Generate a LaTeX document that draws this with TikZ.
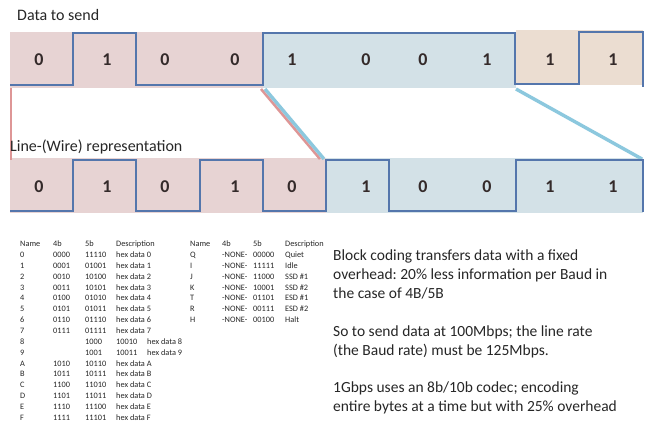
\documentclass[tikz,border=0pt]{standalone}
\usepackage{fontspec}
\setmainfont{Carlito}
\frenchspacing
\definecolor{wave}{RGB}{84,118,172}
\definecolor{cellpink}{RGB}{231,211,211}
\definecolor{cellblue}{RGB}{211,225,231}
\definecolor{celltan}{RGB}{235,221,209}
\definecolor{linkpink}{RGB}{222,150,150}
\definecolor{linkblue}{RGB}{140,200,222}
\definecolor{ink}{RGB}{38,38,38}
\definecolor{bitink}{RGB}{52,42,42}

\begin{document}
\begin{tikzpicture}[x=1pt,y=-1pt,
  bit/.style={font=\fontsize{18}{21}\selectfont\bfseries, text=bitink, inner sep=0pt},
  caption/.style={font=\fontsize{15.5}{19}\selectfont, text=ink, anchor=base west, inner sep=0pt},
  rowtitle/.style={caption, font=\fontsize{16}{19}\selectfont},
  tab/.style={font=\fontsize{8.3}{10}\selectfont, text=ink, anchor=base west, inner sep=0pt},
  waveform/.style={draw=wave, line width=1.4pt, line join=miter},
  pinklink/.style={draw=linkpink, line width=2.6pt},
  bluelink/.style={draw=linkblue, line width=3.4pt},
]
\useasboundingbox (0,0) rectangle (650,421);

% ---- coloured nibble backgrounds ----
\fill[cellpink] (10,32) rectangle (263,88);
\fill[cellblue] (263,33) rectangle (516,88);
\fill[celltan]  (516,30) rectangle (643,85);
\fill[cellpink] (10,158) rectangle (326,213);
\fill[cellblue] (326,158) rectangle (643,213);

% ---- mapping lines between the two rows ----
\coordinate (vTop) at (11,88);
\coordinate (vBot) at (11,160);
\coordinate (pTop) at (261,89);
\coordinate (pBot) at (320,159);
\coordinate (aTop) at (265,89);
\coordinate (aBot) at (324,159);
\coordinate (cTop) at (516,89);
\coordinate (cBot) at (642,159);
\draw[draw=linkpink, line width=2pt] (vTop) -- (vBot);
\draw[pinklink] (pTop) -- (pBot);
\draw[bluelink] (aTop) -- (aBot);
\draw[bluelink] (cTop) -- (cBot);

% ---- waveforms ----
\draw[waveform] (10,85) -- (73,85) -- (73,33) -- (136,33) -- (136,85) -- (263,85)
  -- (263,33) -- (515,33) -- (515,84) -- (579,84) -- (579,32) -- (643,32) -- (643,87);
\draw[waveform] (10,211) -- (73,211) -- (73,160) -- (136,160) -- (136,211) -- (200,211)
  -- (200,160) -- (263,160) -- (263,211) -- (326,211) -- (326,160) -- (389,160)
  -- (389,211) -- (516,211) -- (516,160) -- (643,160) -- (643,212);

% ---- bit values ----
\foreach \x/\v [count=\i] in {39/0,107/1,165/0,235/0,292/1,366/0,423/0,487/1,550/1,613/1}
  \node[bit] (t\i) at (\x,60) {\v};
\foreach \x/\v [count=\i] in {39/0,107/1,165/0,235/1,292/0,366/1,423/0,487/0,550/1,613/1}
  \node[bit] (b\i) at (\x,187) {\v};

% ---- row titles ----
\node[rowtitle] (sendTitle) at (17,20) {Data to send};
\node[rowtitle] (lineTitle) at (10,151) {Line-(Wire) representation};

% ---- 4B/5B data symbols ----
\foreach \nm/\fb/\fv/\ds [count=\r from 0] in {
    Name/4b/5b/Description,
    0/0000/11110/hex data 0, 1/0001/01001/hex data 1, 2/0010/10100/hex data 2,
    3/0011/10101/hex data 3, 4/0100/01010/hex data 4, 5/0101/01011/hex data 5,
    6/0110/01110/hex data 6, 7/0111/01111/hex data 7,
    8/ /1000/{10010\hspace{10pt}hex data 8}, 9/ /1001/{10011\hspace{10pt}hex data 9},
    A/1010/10110/hex data A, B/1011/10111/hex data B, C/1100/11010/hex data C,
    D/1101/11011/hex data D, E/1110/11100/hex data E, F/1111/11101/hex data F}{
  \node[tab] (dn\r) at (20,{246.7+10.85*\r}) {\nm};
  \node[tab] (d4\r) at (53,{246.7+10.85*\r}) {\fb};
  \node[tab] (d5\r) at (85,{246.7+10.85*\r}) {\fv};
  \node[tab] (dd\r) at (116,{246.7+10.85*\r}) {\ds};
}

% ---- 4B/5B control symbols ----
\foreach \nm/\fb/\fv/\ds [count=\r from 0] in {
    Name/4b/5b/Description,
    Q/-NONE-/00000/Quiet, I/-NONE-/11111/Idle, J/-NONE-/11000/SSD \#1,
    K/-NONE-/10001/SSD \#2, T/-NONE-/01101/ESD \#1, R/-NONE-/00111/ESD \#2,
    H/-NONE-/00100/Halt}{
  \node[tab] (cn\r) at (190,{246.7+10.85*\r}) {\nm};
  \node[tab] (c4\r) at (222,{246.7+10.85*\r}) {\fb};
  \node[tab] (c5\r) at (253,{246.7+10.85*\r}) {\fv};
  \node[tab] (cd\r) at (285,{246.7+10.85*\r}) {\ds};
}

% ---- explanation ----
\node[caption] (n1) at (333,260) {Block coding transfers data with a fixed};
\node[caption] (n2) at (333,279) {overhead: 20\% less information per Baud in};
\node[caption] (n3) at (333,298) {the case of 4B/5B};
\node[caption] (n4) at (333,336) {So to send data at 100Mbps; the line rate};
\node[caption] (n5) at (333,355) {(the Baud rate) must be 125Mbps.};
\node[caption] (n6) at (333,392) {1Gbps uses an 8b/10b codec; encoding};
\node[caption] (n7) at (333,411) {entire bytes at a time but with 25\% overhead};
\end{tikzpicture}
\end{document}
